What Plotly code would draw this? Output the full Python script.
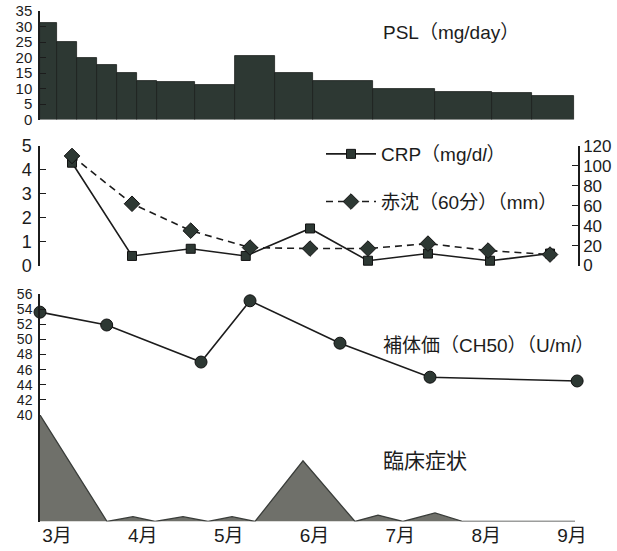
import plotly.graph_objects as go

# ---------------- data (x in month units: 3 = 3月 ... 9 = 9月) ----------------
month_ticks = [3, 4, 5, 6, 7, 8, 9]
month_labels = ["3月", "4月", "5月", "6月", "7月", "8月", "9月"]

# PSL dose steps (mg/day)
psl_edges = [2.80, 3.0, 3.233, 3.466, 3.70, 3.933, 4.165, 4.61, 5.075, 5.54,
             5.983, 6.683, 7.40, 8.07, 8.53, 9.02]
psl_values = [31, 25, 20, 17.5, 15, 12.5, 12, 11, 20.5, 15, 12.5, 10, 9, 8.5, 7.5]

# CRP (mg/dl)
crp_x = [3.175, 3.874, 4.558, 5.199, 5.948, 6.623, 7.322, 8.045, 8.744]
crp_values = [4.3, 0.4, 0.7, 0.4, 1.55, 0.2, 0.5, 0.2, 0.5]

# ESR 60 min (mm)
esr_x = [3.175, 3.874, 4.558, 5.249, 5.948, 6.623, 7.322, 8.022, 8.744]
esr_values = [110, 62, 35, 18, 17, 17, 22, 15, 11]

# CH50 (U/ml)
ch50_x = [2.802, 3.579, 4.678, 5.249, 6.297, 7.346, 9.06]
ch50_values = [53.6, 51.9, 47.0, 55.1, 49.5, 45.0, 44.5]

# clinical symptoms (relative score)
sym_x = [2.802, 3.583, 3.885, 4.142, 4.468, 4.76, 5.039, 5.307, 5.866, 6.472,
         6.74, 7.03, 7.404, 7.73, 9.035]
sym_values = [10, 0, 0.45, 0, 0.45, 0, 0.45, 0, 5.7, 0, 0.6, 0, 0.8, 0, 0]

# ---------------- styling ----------------
W, H = 617, 551
DARK = "#2d3833"
INK = "#1c1c1c"
FONT = "Liberation Sans, Arial, Noto Sans CJK JP, sans-serif"
X_RANGE = [2.802, 9.07]
X_DOM = [40 / W, 578 / W]


def ydom(top_px, bottom_px):
    return [1 - bottom_px / H, 1 - top_px / H]


psl_centers = [(a + b) / 2 for a, b in zip(psl_edges[:-1], psl_edges[1:])]
psl_widths = [b - a for a, b in zip(psl_edges[:-1], psl_edges[1:])]

fig = go.Figure()

fig.add_trace(go.Bar(
    x=psl_centers, y=psl_values, width=psl_widths, xaxis="x", yaxis="y",
    marker=dict(color=DARK, line=dict(color="#1a201d", width=0.8)),
    showlegend=False,
))

fig.add_trace(go.Scatter(
    x=crp_x, y=crp_values, xaxis="x", yaxis="y2", mode="lines+markers",
    name="CRP（mg/d<i>l</i>）", legendgroup="a",
    line=dict(color=INK, width=1.6),
    marker=dict(symbol="square", size=9, color=DARK, line=dict(color="#111", width=1)),
    cliponaxis=False,
))

fig.add_trace(go.Scatter(
    x=esr_x, y=esr_values, xaxis="x", yaxis="y5", mode="lines+markers",
    name="赤沈（60分）（mm）", legendgroup="b",
    line=dict(color=INK, width=1.6, dash="7px,5px"),
    marker=dict(symbol="diamond", size=12, color=DARK, line=dict(color="#111", width=1)),
    cliponaxis=False,
))

fig.add_trace(go.Scatter(
    x=ch50_x, y=ch50_values, xaxis="x", yaxis="y3", mode="lines+markers",
    line=dict(color=INK, width=1.6),
    marker=dict(symbol="circle", size=12, color=DARK, line=dict(color="#111", width=1)),
    showlegend=False, cliponaxis=False,
))

fig.add_trace(go.Scatter(
    x=sym_x, y=sym_values, xaxis="x", yaxis="y4", mode="lines",
    fill="tozeroy", fillcolor="#6f706a",
    line=dict(color="#3a3d3a", width=1.3),
    showlegend=False, cliponaxis=False,
))

yax_common = dict(
    showline=True, linecolor=INK, linewidth=1.5, ticks="inside", ticklen=6,
    tickcolor=INK, tickwidth=1.3, showgrid=False, zeroline=False,
    tickfont=dict(family=FONT, size=15, color=INK), anchor="x", automargin=False,
    ticklabelstandoff=3,
)

fig.update_layout(
    template="none",
    width=W, height=H,
    margin=dict(l=0, r=0, t=0, b=0, pad=0),
    paper_bgcolor="white", plot_bgcolor="rgba(0,0,0,0)",
    font=dict(family=FONT, color=INK),
    bargap=0,
    xaxis=dict(domain=X_DOM, range=X_RANGE, anchor="y4", tickvals=month_ticks,
               ticktext=month_labels, showgrid=False, zeroline=False,
               showline=False, ticks="", automargin=False,
               tickfont=dict(family=FONT, size=19, color=INK)),
    yaxis=dict(domain=ydom(11, 119.5), range=[0, 35], dtick=5, **yax_common),
    yaxis2=dict(domain=ydom(146, 265.5), range=[0, 5], dtick=1,
                **{**yax_common, "tickfont": dict(family=FONT, size=18, color=INK)}),
    yaxis5=dict(overlaying="y2", side="right", range=[0, 120], dtick=20,
                **{**yax_common, "tickfont": dict(family=FONT, size=17, color=INK),
                   "ticklabelstandoff": 0}),
    yaxis3=dict(domain=ydom(294, 415), range=[40, 56], dtick=2,
                **{**yax_common, "tickfont": dict(family=FONT, size=14, color=INK)}),
    yaxis4=dict(domain=ydom(415, 521.5), range=[0, 10], showline=True,
                linecolor=INK, linewidth=1.5, ticks="", showticklabels=False,
                showgrid=False, zeroline=False, anchor="x", automargin=False),
    legend=dict(x=321 / W, y=1 - 135 / H, xanchor="left", yanchor="top",
                bgcolor="rgba(0,0,0,0)", font=dict(family=FONT, size=19, color=INK),
                itemwidth=50, traceorder="grouped", tracegroupgap=20),
    annotations=[
        dict(text="PSL（mg/day）", x=381 / W, y=1 - 33 / H, xref="paper", yref="paper",
             xanchor="left", yanchor="middle", showarrow=False,
             font=dict(family=FONT, size=19, color=INK)),
        dict(text="補体価（CH50）（U/m<i>l</i>）", x=381 / W, y=1 - 345 / H,
             xref="paper", yref="paper", xanchor="left", yanchor="middle",
             showarrow=False, font=dict(family=FONT, size=19, color=INK)),
        dict(text="臨床症状", x=381 / W, y=1 - 460 / H, xref="paper", yref="paper",
             xanchor="left", yanchor="middle", showarrow=False,
             font=dict(family=FONT, size=21, color=INK)),
    ],
)

fig.write_html("out.html", config={"displayModeBar": False},
               post_script="document.body.style.margin='0';document.body.style.padding='0';")
